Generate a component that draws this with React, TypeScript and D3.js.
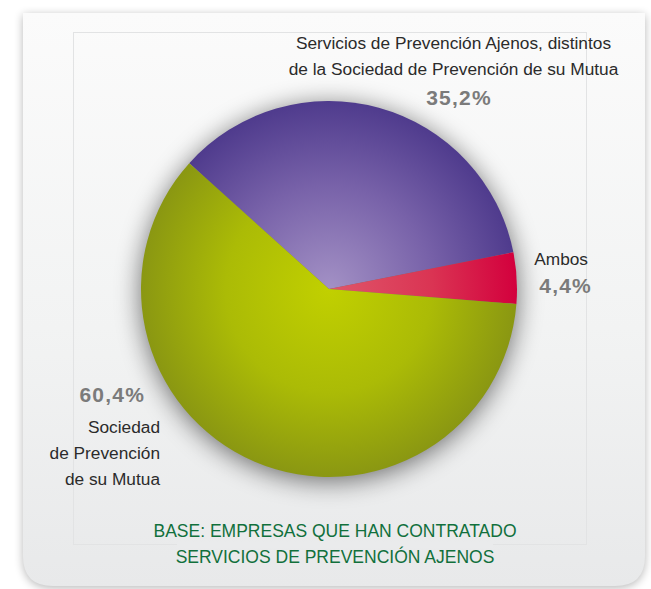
import { useEffect, useRef } from 'react'
import * as d3 from 'd3'

// slice order clockwise, starting at the purple/green edge
const categories = ['Servicios de Prevención Ajenos', 'Ambos', 'Sociedad de Prevención de su Mutua']
const values = [35.2, 4.4, 60.4]
const pctLabels = ['35,2%', '4,4%', '60,4%']
const innerColors = ['#a391c5', '#e0566a', '#c1d000']
const midColors = ['#7862a9', '#da3453', '#abbb06']
const outerColors = ['#4f3b8d', '#d3003d', '#8a9712']

const topLabel = ['Servicios de Prevención Ajenos, distintos', 'de la Sociedad de Prevención de su Mutua']
const rightLabel = ['Ambos']
const leftLabel = ['Sociedad', 'de Prevención', 'de su Mutua']
const footer = ['BASE: EMPRESAS QUE HAN CONTRATADO', 'SERVICIOS DE PREVENCIÓN AJENOS']

const W = 651
const H = 589
const FONT = '"Liberation Sans", Arial, sans-serif'

export default function App() {
  const svgRef = useRef<SVGSVGElement | null>(null)

  useEffect(() => {
    if (!svgRef.current) return
    const svg = d3.select(svgRef.current)
    svg.selectAll('*').remove()

    const defs = svg.append('defs')

    const cardGrad = defs.append('linearGradient').attr('id', 'card-bg')
      .attr('x1', 0).attr('y1', 0).attr('x2', 0).attr('y2', 1)
    cardGrad.append('stop').attr('offset', '0%').attr('stop-color', '#fbfbfb')
    cardGrad.append('stop').attr('offset', '55%').attr('stop-color', '#f2f3f3')
    cardGrad.append('stop').attr('offset', '100%').attr('stop-color', '#e8e9ea')

    defs.append('filter').attr('id', 'card-shadow')
      .attr('x', -0.1).attr('y', -0.1).attr('width', 1.2).attr('height', 1.2)
      .append('feGaussianBlur').attr('stdDeviation', 5)

    defs.append('filter').attr('id', 'pie-shadow')
      .attr('x', -0.5).attr('y', -0.5).attr('width', 2).attr('height', 2)
      .append('feGaussianBlur').attr('stdDeviation', 13)

    // card
    const cx0 = 23, cy0 = 13, cx1 = 645, cy1 = 586, rr = 30
    const cardPath = `M${cx0},${cy0}H${cx1}V${cy1 - rr}Q${cx1},${cy1} ${cx1 - rr},${cy1}H${cx0 + rr}Q${cx0},${cy1} ${cx0},${cy1 - rr}Z`
    svg.append('path').attr('d', cardPath).attr('fill', '#000').attr('opacity', 0.28)
      .attr('transform', 'translate(0,2)').attr('filter', 'url(#card-shadow)')
    svg.append('path').attr('d', cardPath).attr('fill', 'url(#card-bg)')

    // faint inner frame
    svg.append('rect').attr('x', 73.5).attr('y', 32.5).attr('width', 513).attr('height', 512)
      .attr('fill', 'none').attr('stroke', '#e2e3e4').attr('stroke-width', 1)

    const cx = 329, cy = 289, radius = 188
    const g = svg.append('g').attr('transform', `translate(${cx},${cy})`)

    g.append('circle').attr('cx', 0).attr('cy', 4).attr('r', radius)
      .attr('fill', '#000').attr('opacity', 0.55).attr('filter', 'url(#pie-shadow)')

    const start = -48 * Math.PI / 180
    const pie = d3.pie<number>().sort(null).value(d => d)
      .startAngle(start).endAngle(start + 2 * Math.PI)
    const arc = d3.arc<d3.PieArcDatum<number>>().innerRadius(0).outerRadius(radius)

    values.forEach((_, i) => {
      const rg = defs.append('radialGradient').attr('id', `slice-${i}`)
        .attr('gradientUnits', 'userSpaceOnUse')
        .attr('cx', 0).attr('cy', 0).attr('r', radius)
      rg.append('stop').attr('offset', '0%').attr('stop-color', innerColors[i])
      rg.append('stop').attr('offset', '55%').attr('stop-color', midColors[i])
      rg.append('stop').attr('offset', '100%').attr('stop-color', outerColors[i])
    })

    g.selectAll('path.slice')
      .data(pie(values))
      .join('path')
      .attr('class', 'slice')
      .attr('d', arc)
      .attr('fill', (_, i) => `url(#slice-${i})`)
      .append('title').text((_, i) => categories[i])

    const txt = (x: number, y: number, s: string, anchor: string, size: number, fill: string, weight = 'normal', spacing = 0) =>
      svg.append('text').attr('x', x).attr('y', y).attr('text-anchor', anchor)
        .attr('font-family', FONT).attr('font-size', size).attr('font-weight', weight)
        .attr('letter-spacing', spacing).attr('fill', fill).text(s)

    const labelFill = '#2b2b2b'
    const pctFill = '#7b7b7b'

    // top label
    topLabel.forEach((s, i) => txt(453.5, 49 + i * 26, s, 'middle', 17.3, labelFill))
    txt(459, 105, pctLabels[0], 'middle', 21, pctFill, 'bold', 1.2)

    // right label
    rightLabel.forEach((s, i) => txt(588, 265 + i * 26, s, 'end', 17.3, labelFill))
    txt(592, 293, pctLabels[1], 'end', 21, pctFill, 'bold', 1.2)

    // left label
    txt(145, 402, pctLabels[2], 'end', 21, pctFill, 'bold', 1.2)
    leftLabel.forEach((s, i) => txt(160, 433 + i * 26, s, 'end', 17.3, labelFill))

    // footer
    svg.append('rect').attr('x', 177).attr('y', 542).attr('width', 316).attr('height', 6).attr('fill', '#eaebec')
    footer.forEach((s, i) => txt(335, 537 + i * 26, s, 'middle', 17.5, '#11703c'))
  }, [])

  return (
    <svg ref={svgRef} width={W} height={H}
      style={{ position: 'absolute', left: 0, top: 0, background: '#fff' }} />
  )
}
